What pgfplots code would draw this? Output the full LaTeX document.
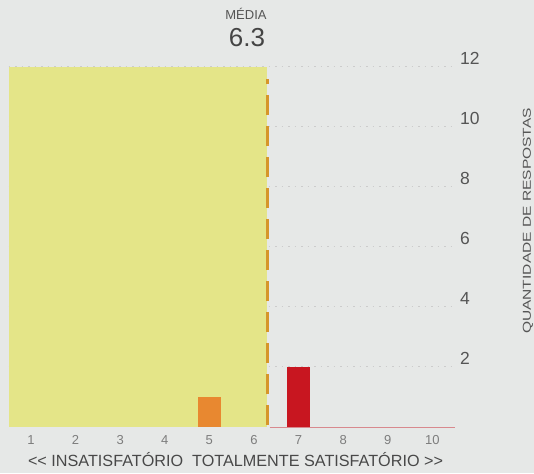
\documentclass[border=0pt]{standalone}
\usepackage{fontspec}
\setmainfont{Liberation Sans}
\usepackage{pgfplots}
\pgfplotsset{compat=1.18}

\definecolor{bgc}{RGB}{230,232,231}
\definecolor{yel}{RGB}{228,229,136}
\definecolor{orangec}{RGB}{232,136,48}
\definecolor{redc}{RGB}{200,22,32}
\definecolor{meanc}{RGB}{214,150,42}
\definecolor{tickc}{RGB}{125,125,125}
\definecolor{labc}{RGB}{85,85,85}

\begin{document}
\begin{tikzpicture}[x=1pt,y=1pt]
\fill[bgc] (0,0) rectangle (534,473);
\begin{axis}[
    at={(8.7pt,46pt)}, anchor=south west,
    scale only axis, width=445.9pt, height=360pt,
    xmin=0.5, xmax=10.5, ymin=0, ymax=12,
    axis line style={draw=none},
    major tick length=0pt,
    xtick={1,...,10},
    ytick={2,4,...,12},
    yticklabel pos=right,
    ymajorgrids,
    grid style={dash pattern=on 1.5pt off 5pt, gray!40, line width=1pt},
    xticklabel style={font=\fontsize{13}{13}\selectfont, text=tickc, yshift=-5pt},
    yticklabel style={font=\fontsize{17.5}{17.5}\selectfont, text=labc, xshift=2pt, yshift=9pt},
    /pgf/number format/assume math mode=true,
    clip=false,
]
    % faixa ate a media
    \addplot[draw=none, fill=yel] coordinates {(0.5,12) (6.3,12)} \closedcycle;

    % linha de base a direita
    \addplot[redc!45!bgc, line width=0.8pt] coordinates {(6.35,0) (10.5,0)};

    % respostas
    \addplot[ybar, bar width=0.5, bar shift=0pt, fill=orangec, draw=none] coordinates {(5,1)};
    \addplot[ybar, bar width=0.5, bar shift=0pt, fill=redc, draw=none] coordinates {(7,2)};

    % media
    \addplot[meanc, line width=2.5pt, dash pattern=on 20pt off 11pt, dash phase=-2pt] coordinates {(6.3,0) (6.3,11.6)};
\end{axis}

\node[font=\fontsize{13}{13}\selectfont, text=labc] at (246,459) {MÉDIA};
\node[font=\fontsize{26}{26}\selectfont, text=labc!80!black] at (247,435) {6.3};
\node[font=\fontsize{16.2}{16.2}\selectfont, text=labc!85!black] at (235.5,13) {{<}{<} INSATISFATÓRIO \ TOTALMENTE SATISFATÓRIO {>}{>}};
\node[rotate=90, font=\fontsize{11.5}{11.5}\selectfont, text=labc] at (528,252) {\scalebox{1.35}[1]{QUANTIDADE DE RESPOSTAS}};

\pgfresetboundingbox
\path (0,0) rectangle (534,473);
\end{tikzpicture}
\end{document}
